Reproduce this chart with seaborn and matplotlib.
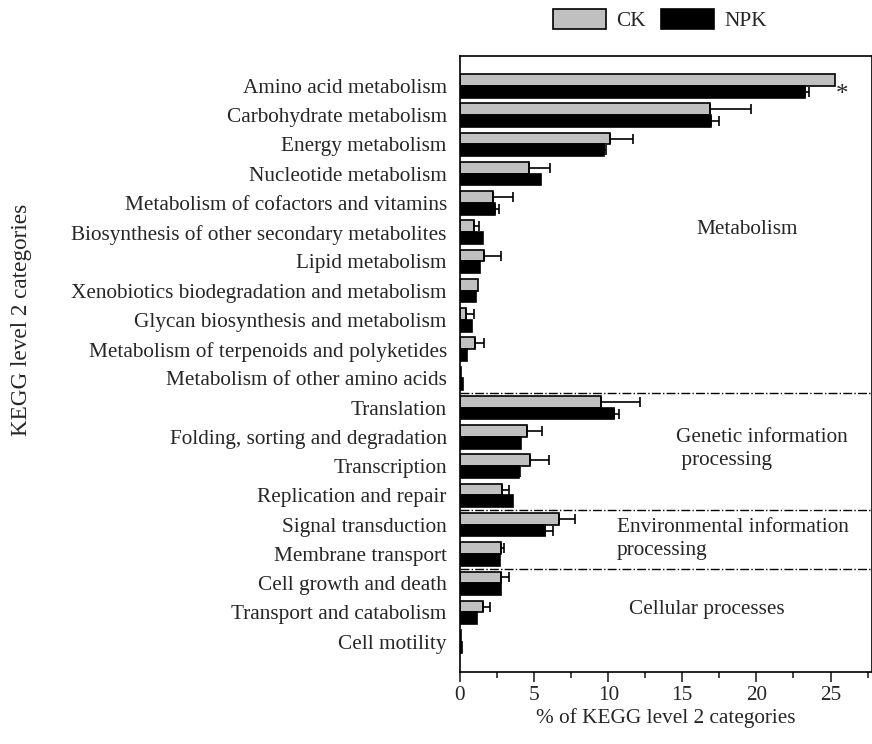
import numpy as np
import pandas as pd
import matplotlib
matplotlib.use("Agg")
import matplotlib.pyplot as plt
import seaborn as sns
from matplotlib.ticker import MultipleLocator
from matplotlib.patches import Patch

categories = [
    "Amino acid metabolism", "Carbohydrate metabolism", "Energy metabolism",
    "Nucleotide metabolism", "Metabolism of cofactors and vitamins",
    "Biosynthesis of other secondary metabolites", "Lipid metabolism",
    "Xenobiotics biodegradation and metabolism", "Glycan biosynthesis and metabolism",
    "Metabolism of terpenoids and polyketides", "Metabolism of other amino acids",
    "Translation", "Folding, sorting and degradation", "Transcription",
    "Replication and repair", "Signal transduction", "Membrane transport",
    "Cell growth and death", "Transport and catabolism", "Cell motility",
]
ck_values = [25.3, 16.85, 10.15, 4.68, 2.2, 0.92, 1.6, 1.19, 0.4, 1.03, 0.08,
             9.53, 4.53, 4.7, 2.84, 6.66, 2.77, 2.77, 1.57, 0.06]
ck_err = [0, 2.77, 1.5, 1.42, 1.4, 0.38, 1.17, 0, 0.52, 0.57, 0,
          2.63, 1.01, 1.29, 0.49, 1.13, 0.22, 0.51, 0.46, 0]
npk_values = [23.3, 16.96, 9.75, 5.47, 2.36, 1.53, 1.37, 1.08, 0.78, 0.47, 0.18,
              10.36, 4.12, 4.0, 3.6, 5.74, 2.7, 2.77, 1.12, 0.12]
npk_err = [0.22, 0.5, 0.11, 0, 0.3, 0, 0, 0, 0, 0, 0,
           0.34, 0, 0.05, 0, 0.52, 0, 0, 0, 0]
groups = ["CK", "NPK"]
group_labels = ["Metabolism", "Genetic information\n processing",
                "Environmental information\nprocessing", "Cellular processes"]

df = pd.DataFrame({
    "category": categories * 2,
    "value": ck_values + npk_values,
    "treatment": ["CK"] * len(categories) + ["NPK"] * len(categories),
})

sns.set_style("ticks")
plt.rcParams["font.family"] = ["Liberation Serif", "DejaVu Serif"]
plt.rcParams["font.size"] = 15

fig = plt.figure(figsize=(8.72, 7.44), dpi=100)
ax = fig.add_axes([0.5275, 0.097, 0.4725, 0.828])

sns.barplot(data=df, y="category", x="value", hue="treatment", order=categories,
            hue_order=groups, palette={"CK": "#c0c0c0", "NPK": "#000000"},
            orient="h", errorbar=None, width=0.8, edgecolor="black",
            linewidth=1.2, legend=False, ax=ax)

# error bars from the bars' positions
for container, errs in zip(ax.containers, [ck_err, npk_err]):
    for patch, e in zip(container.patches, errs):
        if e <= 0:
            continue
        yc = patch.get_y() + patch.get_height() / 2
        xe = patch.get_x() + patch.get_width()
        ax.errorbar(xe, yc, xerr=[[0], [e]], fmt="none", ecolor="black",
                    elinewidth=1.2, capsize=3.6, capthick=1.2)

ax.set_xlim(0, 27.8)
ax.set_ylim(len(categories) - 1 + 1.03, -1.03)
ax.xaxis.set_major_locator(MultipleLocator(5))
ax.xaxis.set_minor_locator(MultipleLocator(2.5))
ax.tick_params(axis="x", which="major", length=7, width=1.2, direction="out",
               labelsize=15.3)
ax.tick_params(axis="x", which="minor", length=4, width=1.2, direction="out")
ax.tick_params(axis="y", length=0, labelsize=15.3, pad=9.5)
for sp in ax.spines.values():
    sp.set_visible(True)
    sp.set_linewidth(1.2)
    sp.set_color("black")

ax.set_xlabel("% of KEGG level 2 categories", fontsize=15.3, labelpad=2)
ax.set_ylabel("")
fig.text(0.025, 0.570, "KEGG level 2 categories", rotation=90, fontsize=16.7,
         ha="center", va="center")

for yline in [10.5, 14.5, 16.5]:
    ax.axhline(yline, color="black", linestyle="-.", linewidth=1.0)

ax.text(25.8, 0.3, "*", fontsize=18, ha="center", va="center")
ax.text(19.4, 4.9, group_labels[0], fontsize=15.3, ha="center", va="center")
ax.text(14.6, 12.4, group_labels[1], fontsize=15.3, ha="left", va="center",
        linespacing=1.3)
ax.text(10.6, 15.5, group_labels[2], fontsize=15.3, ha="left", va="center",
        linespacing=1.3)
ax.text(11.4, 17.9, group_labels[3], fontsize=15.3, ha="left", va="center")

# legend
handles = [Patch(facecolor="#c0c0c0", edgecolor="black", linewidth=1.2, label="CK"),
           Patch(facecolor="#000000", edgecolor="black", linewidth=1.2, label="NPK")]
fig.legend(handles=handles, loc="center", bbox_to_anchor=(0.757, 0.973), ncol=2,
           frameon=False, fontsize=15.3, handlelength=2.5, handleheight=1.05,
           columnspacing=0.7, handletextpad=0.5)

fig.savefig("out.png", dpi=100)
